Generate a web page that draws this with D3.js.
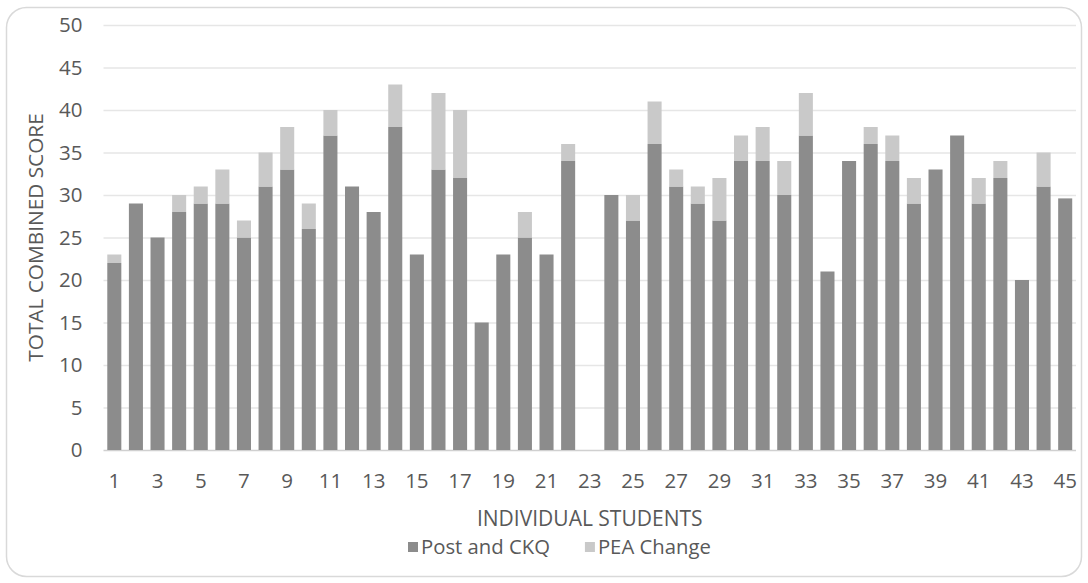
<!DOCTYPE html>
<html>
<head>
<meta charset="utf-8">
<script src="https://cdn.jsdelivr.net/npm/d3@7"></script>
<style>
  html, body { margin: 0; padding: 0; background: #fff; }
  svg { display: block; }
  text { font-family: "Open Sans", "Liberation Sans", sans-serif; fill: #595959; }
</style>
</head>
<body>
<svg id="chart" width="1088" height="583"></svg>
<script>
const students = ["1","2","3","4","5","6","7","8","9","10","11","12","13","14","15","16","17","18","19","20","21","22","23","24","25","26","27","28","29","30","31","32","33","34","35","36","37","38","39","40","41","42","43","44","45"];
const postCKQ = [22,29,25,28,29,29,25,31,33,26,37,31,28,38,23,33,32,15,23,25,23,34,0,30,27,36,31,29,27,34,34,30,37,21,34,36,34,29,33,37,29,32,20,31,29.6];
const peaChange = [1,0,0,2,2,4,2,4,5,3,3,0,0,5,0,9,8,0,0,3,0,2,0,0,3,5,2,2,5,3,4,4,5,0,0,2,3,3,0,0,3,2,0,4,0];
const seriesNames = ["Post and CKQ", "PEA Change"];
const yTicks = [0,5,10,15,20,25,30,35,40,45,50];
const xTickLabels = ["1","3","5","7","9","11","13","15","17","19","21","23","25","27","29","31","33","35","37","39","41","43","45"];
const yTitle = "TOTAL COMBINED SCORE";
const xTitle = "INDIVIDUAL STUDENTS";

const colors = ["#8c8c8c", "#c9c9c9"];

const svg = d3.select("#chart");
const W = 1088, H = 583;
const plot = { left: 103.5, right: 1076, top: 25, bottom: 450 };

// outer border
svg.append("rect")
  .attr("x", 6.5).attr("y", 7.5)
  .attr("width", W - 13).attr("height", H - 14)
  .attr("rx", 20).attr("ry", 20)
  .attr("fill", "#fff").attr("stroke", "#d9d9d9").attr("stroke-width", 1.5);

const x = d3.scaleBand().domain(students).range([plot.left, plot.right])
  .paddingInner(0.35).paddingOuter(0.175);
const y = d3.scaleLinear().domain([0, 50]).range([plot.bottom, plot.top]);

// gridlines
const yAxis = d3.axisLeft(y).tickValues(yTicks).tickSize(-(plot.right - plot.left)).tickPadding(21);
const gy = svg.append("g").attr("transform", `translate(${plot.left},0)`).call(yAxis);
gy.select(".domain").remove();
gy.selectAll(".tick line").attr("stroke-width", 1.3)
  .attr("stroke", d => d === 0 ? "#d0d0d0" : "#e6e6e6");
gy.selectAll(".tick text").attr("font-size", 20.5).attr("fill", "#595959")
  .style("font-family", "'Open Sans', sans-serif");

// stacked data
const data = students.map((s, i) => ({ s, a: postCKQ[i], b: peaChange[i] }));
const stack = d3.stack().keys(["a", "b"])(data);

svg.append("g").selectAll("g").data(stack).join("g")
  .attr("fill", (d, i) => colors[i])
  .selectAll("rect").data(d => d).join("rect")
  .attr("x", d => x(d.data.s))
  .attr("width", x.bandwidth())
  .attr("y", d => y(d[1]))
  .attr("height", d => Math.max(0, y(d[0]) - y(d[1])));

// x axis
const xAxis = d3.axisBottom(x).tickValues(xTickLabels).tickSize(0).tickPadding(23);
const gx = svg.append("g").attr("transform", `translate(0,${plot.bottom})`).call(xAxis);
gx.select(".domain").remove();
gx.selectAll(".tick text").attr("font-size", 20.5).attr("fill", "#595959")
  .style("font-family", "'Open Sans', sans-serif");

// axis titles
svg.append("text")
  .attr("transform", `translate(43,${(plot.top + plot.bottom) / 2}) rotate(-90)`)
  .attr("text-anchor", "middle").attr("font-size", 20.8)
  .text(yTitle);
svg.append("text")
  .attr("x", (plot.left + plot.right) / 2).attr("y", 525.5)
  .attr("text-anchor", "middle").attr("font-size", 21)
  .text(xTitle);

// legend
const legend = svg.append("g");
const items = legend.selectAll("g").data(seriesNames).join("g");
items.append("rect").attr("width", 10).attr("height", 10).attr("y", -5)
  .attr("fill", (d, i) => colors[i]);
items.append("text").attr("x", 13).attr("y", 0).attr("dy", "0.35em")
  .attr("font-size", 20.3).text(d => d);
const widths = [];
items.each(function () { widths.push(this.getBBox().width); });
const gap = 35;
let cx = 408;
items.attr("transform", (d, i) => {
  const t = `translate(${cx},547)`;
  cx += widths[i] + gap;
  return t;
});
</script>
</body>
</html>
